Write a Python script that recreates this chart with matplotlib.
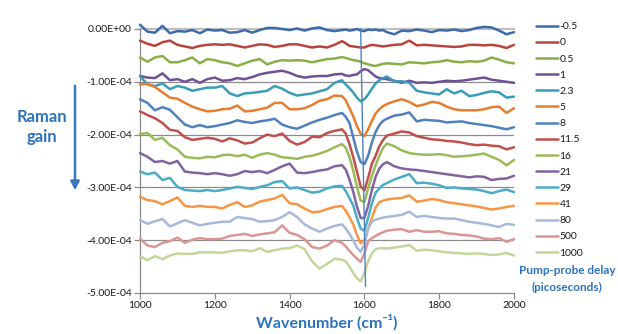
import matplotlib
matplotlib.use("Agg")
import matplotlib.pyplot as plt
import numpy as np

plt.rcParams['font.family'] = ['Lato', 'DejaVu Sans']

# ---------------- data (Raman gain in units of 1e-4) ----------------
wavenumber = [1000, 1020, 1040, 1060, 1080, 1100, 1120, 1140, 1160, 1180,
              1200, 1220, 1240, 1260, 1280, 1300, 1320, 1340, 1360, 1380,
              1400, 1420, 1440, 1460, 1480, 1500, 1520, 1540,
              1550, 1560, 1570, 1580, 1590, 1600, 1610, 1620, 1630, 1640, 1650,
              1660, 1680, 1700, 1720, 1740, 1760, 1780, 1800, 1820, 1840,
              1860, 1880, 1900, 1920, 1940, 1960, 1980, 2000]

delays = ["-0.5", "0", "0.5", "1", "2.3", "5", "8", "11.5", "16", "21",
          "29", "41", "80", "500", "1000"]

s_m05 = [0.08, -0.05, -0.07, 0.06, -0.08, -0.04, -0.05, -0.02, -0.08, -0.01,
         -0.03, -0.02, -0.07, -0.06, -0.02, -0.07, -0.02, 0.02, 0.02, 0.0,
         -0.02, 0.01, -0.03, 0.01, 0.03, -0.02, -0.04, -0.02,
         -0.01, -0.03, -0.02, 0.0, -0.03, -0.04, -0.01, -0.02, -0.01, -0.03, -0.02,
         -0.06, -0.10, -0.03, -0.04, -0.01, -0.03, -0.06, -0.02, -0.03, -0.01,
         -0.04, -0.02, 0.02, 0.04, 0.03, -0.03, -0.10, -0.06]
s_0 = [-0.22, -0.28, -0.32, -0.25, -0.22, -0.30, -0.33, -0.36, -0.32, -0.30,
       -0.29, -0.30, -0.29, -0.32, -0.35, -0.32, -0.29, -0.30, -0.34, -0.32,
       -0.29, -0.29, -0.32, -0.35, -0.33, -0.35, -0.30, -0.23,
       -0.27, -0.32, -0.33, -0.34, -0.35, -0.35, -0.32, -0.30, -0.31, -0.32, -0.33,
       -0.32, -0.30, -0.29, -0.22, -0.31, -0.30, -0.31, -0.32, -0.33, -0.34,
       -0.33, -0.30, -0.30, -0.31, -0.30, -0.32, -0.36, -0.30]
s_05 = [-0.54, -0.62, -0.54, -0.51, -0.63, -0.63, -0.59, -0.54, -0.65, -0.57,
        -0.59, -0.63, -0.65, -0.70, -0.65, -0.60, -0.57, -0.67, -0.62, -0.59,
        -0.60, -0.59, -0.60, -0.63, -0.60, -0.57, -0.56, -0.53,
        -0.55, -0.57, -0.59, -0.60, -0.62, -0.65, -0.67, -0.69, -0.70, -0.68, -0.66,
        -0.65, -0.66, -0.67, -0.63, -0.64, -0.65, -0.63, -0.62, -0.59, -0.62,
        -0.63, -0.61, -0.62, -0.60, -0.54, -0.58, -0.63, -0.65]
s_1 = [-0.89, -0.92, -0.93, -0.84, -0.97, -0.95, -1.00, -0.95, -1.02, -0.95,
       -0.92, -0.98, -0.97, -0.93, -0.95, -0.91, -0.86, -0.83, -0.81, -0.79,
       -0.83, -0.89, -0.92, -0.90, -0.89, -0.89, -0.86, -0.85,
       -0.88, -0.89, -0.87, -0.86, -0.80, -0.76, -0.78, -0.84, -0.90, -0.93, -0.94,
       -0.95, -0.98, -1.02, -0.98, -1.02, -1.01, -1.02, -1.00, -0.98, -0.99,
       -0.98, -0.96, -0.94, -0.92, -0.96, -0.98, -1.00, -1.02]
s_23 = [-0.89, -1.05, -1.08, -1.03, -1.14, -1.08, -1.11, -1.17, -1.14, -1.11,
        -1.11, -1.08, -1.22, -1.27, -1.22, -1.21, -1.19, -1.17, -1.08, -1.13,
        -1.21, -1.26, -1.24, -1.22, -1.18, -1.14, -1.02, -0.97,
        -1.05, -1.12, -1.20, -1.30, -1.37, -1.33, -1.24, -1.13, -1.03, -0.97, -0.93,
        -0.90, -0.99, -0.99, -1.02, -1.17, -1.20, -1.22, -1.24, -1.14, -1.22,
        -1.17, -1.27, -1.25, -1.21, -1.18, -1.20, -1.30, -1.28]
s_5 = [-1.05, -1.04, -1.10, -1.20, -1.30, -1.32, -1.40, -1.47, -1.52, -1.56,
       -1.55, -1.52, -1.51, -1.45, -1.56, -1.55, -1.52, -1.49, -1.40, -1.40,
       -1.52, -1.52, -1.50, -1.44, -1.36, -1.33, -1.26, -1.27,
       -1.35, -1.50, -1.65, -1.84, -1.98, -2.03, -1.90, -1.74, -1.60, -1.52, -1.46,
       -1.42, -1.37, -1.33, -1.38, -1.46, -1.43, -1.38, -1.40, -1.47, -1.52,
       -1.54, -1.54, -1.54, -1.52, -1.48, -1.47, -1.59, -1.50]
s_8 = [-1.33, -1.40, -1.54, -1.48, -1.53, -1.67, -1.81, -1.86, -1.82, -1.86,
       -1.84, -1.81, -1.78, -1.73, -1.76, -1.78, -1.75, -1.73, -1.70, -1.81,
       -1.86, -1.89, -1.83, -1.77, -1.72, -1.68, -1.63, -1.59,
       -1.66, -1.78, -2.05, -2.32, -2.52, -2.56, -2.40, -2.15, -1.95, -1.82, -1.74,
       -1.70, -1.64, -1.62, -1.58, -1.75, -1.72, -1.73, -1.74, -1.77, -1.76,
       -1.75, -1.78, -1.80, -1.82, -1.84, -1.87, -1.90, -1.86]
s_115 = [-1.56, -1.63, -1.69, -1.78, -1.91, -1.93, -2.05, -2.10, -2.08, -2.06,
         -2.08, -2.13, -2.07, -2.11, -2.17, -2.15, -2.07, -2.00, -2.03, -1.98,
         -2.12, -2.19, -2.14, -2.04, -2.05, -1.97, -1.93, -1.90,
         -1.98, -2.18, -2.42, -2.70, -2.98, -3.06, -2.82, -2.55, -2.40, -2.22, -2.10,
         -2.02, -1.98, -1.94, -1.96, -2.03, -2.06, -2.09, -2.10, -2.12, -2.13,
         -2.15, -2.18, -2.20, -2.19, -2.21, -2.22, -2.28, -2.24]
s_16 = [-1.99, -1.97, -2.10, -2.06, -2.20, -2.28, -2.42, -2.44, -2.45, -2.42,
        -2.43, -2.39, -2.38, -2.41, -2.38, -2.44, -2.38, -2.35, -2.38, -2.43,
        -2.44, -2.46, -2.42, -2.40, -2.36, -2.31, -2.24, -2.18,
        -2.25, -2.42, -2.68, -2.98, -3.25, -3.28, -3.02, -2.78, -2.58, -2.40, -2.25,
        -2.17, -2.22, -2.30, -2.35, -2.37, -2.38, -2.38, -2.37, -2.39, -2.42,
        -2.41, -2.40, -2.38, -2.36, -2.42, -2.48, -2.58, -2.48]
s_21 = [-2.35, -2.42, -2.52, -2.50, -2.55, -2.50, -2.70, -2.72, -2.73, -2.75,
        -2.73, -2.75, -2.78, -2.75, -2.69, -2.71, -2.69, -2.73, -2.67, -2.60,
        -2.55, -2.72, -2.73, -2.71, -2.68, -2.66, -2.60, -2.58,
        -2.66, -2.85, -3.08, -3.36, -3.58, -3.58, -3.35, -3.05, -2.80, -2.64, -2.56,
        -2.52, -2.60, -2.64, -2.66, -2.67, -2.69, -2.71, -2.73, -2.75, -2.77,
        -2.79, -2.81, -2.79, -2.80, -2.86, -2.84, -2.83, -2.78]
s_29 = [-2.70, -2.75, -2.72, -2.86, -2.82, -2.99, -3.05, -3.06, -3.07, -3.05,
        -3.07, -3.05, -3.02, -2.99, -3.01, -3.03, -2.99, -2.96, -2.90, -2.88,
        -3.02, -3.00, -3.05, -3.10, -3.08, -3.02, -2.98, -2.97,
        -3.07, -3.20, -3.34, -3.58, -3.78, -3.82, -3.58, -3.30, -3.10, -3.02, -2.95,
        -2.92, -2.85, -2.80, -2.75, -2.92, -2.91, -2.93, -2.96, -3.01, -3.00,
        -3.02, -3.03, -3.04, -3.07, -3.11, -3.07, -3.04, -3.09]
s_41 = [-3.18, -3.24, -3.26, -3.32, -3.26, -3.19, -3.35, -3.37, -3.35, -3.37,
        -3.37, -3.40, -3.33, -3.28, -3.37, -3.34, -3.27, -3.24, -3.21, -3.14,
        -3.30, -3.32, -3.40, -3.47, -3.46, -3.41, -3.37, -3.35,
        -3.44, -3.56, -3.70, -3.90, -4.06, -4.00, -3.78, -3.58, -3.38, -3.28, -3.25,
        -3.23, -3.21, -3.20, -3.15, -3.27, -3.25, -3.22, -3.24, -3.28, -3.30,
        -3.32, -3.34, -3.36, -3.39, -3.42, -3.40, -3.37, -3.35]
s_80 = [-3.62, -3.69, -3.64, -3.60, -3.74, -3.68, -3.62, -3.67, -3.72, -3.69,
        -3.67, -3.65, -3.65, -3.56, -3.58, -3.60, -3.65, -3.64, -3.62, -3.56,
        -3.47, -3.56, -3.70, -3.78, -3.84, -3.78, -3.73, -3.70,
        -3.78, -3.88, -4.00, -4.14, -4.22, -4.08, -3.78, -3.65, -3.61, -3.59, -3.57,
        -3.56, -3.54, -3.52, -3.46, -3.56, -3.54, -3.56, -3.58, -3.59, -3.59,
        -3.62, -3.65, -3.67, -3.69, -3.72, -3.75, -3.69, -3.71]
s_500 = [-3.97, -4.10, -4.13, -4.05, -4.02, -3.95, -4.05, -3.99, -3.96, -3.98,
         -3.98, -3.97, -3.92, -3.90, -3.88, -3.92, -3.89, -3.87, -3.85, -3.72,
         -3.86, -3.90, -3.98, -4.13, -4.16, -4.10, -4.00, -4.05,
         -4.12, -4.20, -4.28, -4.35, -4.41, -4.25, -4.02, -3.96, -3.92, -3.88, -3.85,
         -3.82, -3.80, -3.79, -3.84, -3.81, -3.84, -3.84, -3.83, -3.87, -3.88,
         -3.90, -3.91, -3.93, -3.97, -3.98, -3.96, -4.03, -3.98]
s_1000 = [-4.30, -4.38, -4.30, -4.36, -4.29, -4.25, -4.26, -4.26, -4.23, -4.23,
          -4.23, -4.24, -4.21, -4.19, -4.19, -4.21, -4.15, -4.22, -4.19, -4.16,
          -4.15, -4.10, -4.17, -4.40, -4.54, -4.45, -4.35, -4.37,
          -4.40, -4.50, -4.62, -4.72, -4.78, -4.62, -4.40, -4.25, -4.17, -4.15, -4.15,
          -4.16, -4.14, -4.12, -4.09, -4.20, -4.18, -4.19, -4.21, -4.23, -4.24,
          -4.25, -4.26, -4.25, -4.26, -4.28, -4.27, -4.24, -4.29]

series = [s_m05, s_0, s_05, s_1, s_23, s_5, s_8, s_115, s_16, s_21,
          s_29, s_41, s_80, s_500, s_1000]

# thin vertical marker line near 1600 cm-1
marker_x = [1590, 1603]
marker_y = [0.0, -4.87]

y_ticks = [0, -1, -2, -3, -4, -5]
x_ticks = [1000, 1200, 1400, 1600, 1800, 2000]

colors = ["#3C6AAA", "#B8443F", "#8AAE48", "#6F5195", "#3A9CB8", "#E57E2E",
          "#4F81BD", "#C0504D", "#9BBB59", "#8064A2", "#4BACC6", "#F79646",
          "#A7B9DB", "#D99694", "#C3D69B"]

SCALE = 1e-4
BLUE = "#2B73BE"

fig = plt.figure(figsize=(6.18, 3.34), dpi=100)
ax = fig.add_axes([140 / 618, 41 / 334, 374 / 618, 264 / 334])

wn = np.array(wavenumber, dtype=float)
for lab, vals, c in zip(delays, series, colors):
    ax.plot(wn, np.array(vals) * SCALE, color=c, lw=1.8, label=lab,
            solid_joinstyle='round', solid_capstyle='round', clip_on=False, zorder=3)

ax.plot(marker_x, np.array(marker_y) * SCALE, color="#4F81BD", lw=1.0,
        zorder=5, clip_on=False)

ax.set_xlim(1000, 2000)
ax.set_ylim(-5 * SCALE, 0)
ax.set_xticks(x_ticks)
ax.set_yticks(np.array(y_ticks) * SCALE)
ax.set_yticklabels(["{:.2E}".format(v * SCALE) if v != 0 else "0.00E+00" for v in y_ticks])
ax.set_xticklabels([str(v) for v in x_ticks])

for v in y_ticks[1:-1]:
    ax.axhline(v * SCALE, color="#8C8C8C", lw=0.9, zorder=1)
ax.axhline(0, color="#BFBFBF", lw=1.6, zorder=1, clip_on=False)

for s in ["top", "right"]:
    ax.spines[s].set_visible(False)
for s in ["left", "bottom"]:
    ax.spines[s].set_color("#8C8C8C")
    ax.spines[s].set_linewidth(0.9)
ax.tick_params(axis='both', direction='out', length=4, width=0.9, color="#8C8C8C",
               labelsize=7.5, labelcolor="#1A1A1A", pad=2)

ax.set_xlabel("Wavenumber (cm\u207b\u00b9)", fontsize=11.5, fontweight='bold',
              color=BLUE, labelpad=3)

fig.text(42 / 618, 1 - 117 / 334, "Raman", fontsize=12, fontweight='bold', color=BLUE,
         ha='center', va='center')
fig.text(42 / 618, 1 - 137 / 334, "gain", fontsize=12, fontweight='bold', color=BLUE,
         ha='center', va='center')
fig.add_artist(matplotlib.patches.FancyArrowPatch(
    (75 / 618, 1 - 83 / 334), (75 / 618, 1 - 193 / 334), transform=fig.transFigure,
    arrowstyle='-|>,head_length=5,head_width=2.6', color="#3A78C2", lw=1.8,
    mutation_scale=1))

leg = ax.legend(loc='upper left', bbox_to_anchor=(536 / 618, 1 - 22 / 334),
                bbox_transform=fig.transFigure, frameon=False, fontsize=7.5,
                handlelength=2.1, handletextpad=0.15, labelspacing=0.66,
                borderpad=0, borderaxespad=0)
for t in leg.get_texts():
    t.set_color("#1A1A1A")

fig.text(567 / 618, 1 - 270 / 334, "Pump-probe delay", fontsize=8.5, fontweight='bold',
         color=BLUE, ha='center', va='center')
fig.text(567 / 618, 1 - 287 / 334, "(picoseconds)", fontsize=8.5, fontweight='bold',
         color=BLUE, ha='center', va='center')

fig.savefig("out.png", dpi=100)
